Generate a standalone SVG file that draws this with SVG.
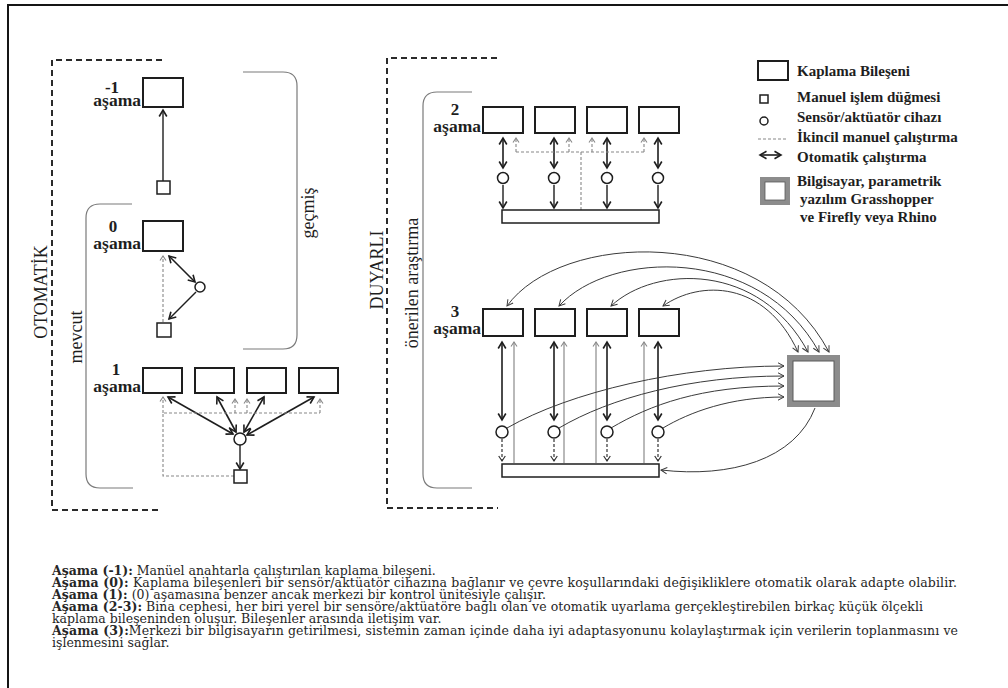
<svg xmlns="http://www.w3.org/2000/svg" width="1008" height="688" viewBox="0 0 1008 688">
  <defs>
    <style>
      .lbl { font-family: "Liberation Serif", "DejaVu Serif", serif; fill: #1e1e1e; }
      .num { font-size: 17px; font-weight: bold; text-anchor: middle; }
      .st { font-size: 17.5px; font-weight: bold; text-anchor: end; }
      .side { font-size: 18px; text-anchor: middle; }
      .leg { font-size: 15px; font-weight: bold; }
      .body { font-family: "DejaVu Serif", "Liberation Serif", serif; font-size: 12.5px; fill: #262626; }
      .body .b { font-weight: bold; }
      .box { fill: #fff; stroke: #1e1e1e; stroke-width: 2; }
      .btn { fill: #fff; stroke: #1e1e1e; stroke-width: 1.5; }
      .sens { fill: #fff; stroke: #1e1e1e; stroke-width: 1.5; }
      .auto2 { fill: none; stroke: #1e1e1e; stroke-width: 1.6; marker-start: url(#ah); marker-end: url(#ah); }
      .auto1 { fill: none; stroke: #1e1e1e; stroke-width: 1.4; marker-end: url(#ah); }
      .man { fill: none; stroke: #888; stroke-width: 1.1; stroke-dasharray: 3 2; }
      .manA { fill: none; stroke: #888; stroke-width: 1.1; stroke-dasharray: 3 2; marker-end: url(#ahg); }
      .manD { fill: none; stroke: #333; stroke-width: 1.2; stroke-dasharray: 3 2; marker-end: url(#ahd); }
      .feed { fill: none; stroke: #8a8a8a; stroke-width: 1.2; marker-end: url(#ahg); }
      .link { fill: none; stroke: #3a3a3a; stroke-width: 1; }
      .frame { fill: none; stroke: #2a2a2a; stroke-width: 2; stroke-dasharray: 6 4; }
      .brk { fill: none; stroke: #7a7a7a; stroke-width: 1.2; }
      .pc { fill: #fff; stroke: #8c8c8c; }
    </style>
    <marker id="ah" viewBox="-8 -5 10 10" refX="0" refY="0" markerWidth="10" markerHeight="10" markerUnits="userSpaceOnUse" orient="auto-start-reverse">
      <path d="M-6.5,-3.8 L0,0 L-6.5,3.8" fill="none" stroke="#1e1e1e" stroke-width="1.6"/>
    </marker>
    <marker id="ahg" viewBox="-8 -5 10 10" refX="0" refY="0" markerWidth="10" markerHeight="10" markerUnits="userSpaceOnUse" orient="auto-start-reverse">
      <path d="M-4.5,-3 L0,0 L-4.5,3" fill="none" stroke="#888" stroke-width="1.1"/>
    </marker>
    <marker id="ahd" viewBox="-8 -5 10 10" refX="0" refY="0" markerWidth="10" markerHeight="10" markerUnits="userSpaceOnUse" orient="auto-start-reverse">
      <path d="M-5,-3.3 L0,0 L-5,3.3" fill="none" stroke="#333" stroke-width="1.2"/>
    </marker>
    <marker id="ahc" viewBox="-8 -5 10 10" refX="0" refY="0" markerWidth="10" markerHeight="10" markerUnits="userSpaceOnUse" orient="auto-start-reverse">
      <path d="M-6,-3.2 L0,0 L-6,3.2" fill="none" stroke="#3a3a3a" stroke-width="1"/>
    </marker>
  </defs>

  <rect width="1008" height="688" fill="#fff"/>
  <!-- page border (open to the right and bottom) -->
  <path d="M1010 5 H8 V690" fill="none" stroke="#151515" stroke-width="2"/>

  <!-- group brackets -->
  <g id="group-otomatik">
    <path class="frame" d="M162 60 H52 V510 H162"/>
    <text class="lbl side" font-size="16" transform="translate(47 292) rotate(-90)">OTOMATİK</text>
  </g>
  <g id="group-gecmis">
    <path class="brk" d="M243 72 H283 Q297 72 297 86 V335 Q297 349 283 349 H243"/>
    <text class="lbl side" transform="translate(314 213) rotate(-90)">geçmiş</text>
  </g>
  <g id="group-mevcut">
    <path class="brk" d="M132 204 H100 Q86 204 86 218 V474 Q86 488 100 488 H133"/>
    <text class="lbl side" transform="translate(82 337) rotate(-90)">mevcut</text>
  </g>
  <g id="group-duyarli">
    <path class="frame" d="M497 58 H387 V508 H498"/>
    <text class="lbl side" font-size="16" transform="translate(383 270) rotate(-90)">DUYARLI</text>
  </g>
  <g id="group-onerilen">
    <path class="brk" d="M472 92 H437 Q423 92 423 106 V474 Q423 488 437 488 H472"/>
    <text class="lbl side" font-size="19" transform="translate(418 283) rotate(-90)">önerilen araştırma</text>
  </g>

  <!-- connectors -->
  <g id="connectors">
    <!-- stage -1 -->
    <path class="auto1" d="M163 181 V110"/>
    <!-- stage 0 -->
    <path class="auto2" d="M169 256 L195 282"/>
    <path class="auto1" d="M196 292 L169 319"/>
    <path class="manA" d="M163 322 V256"/>
    <!-- stage 1 -->
    <path class="auto2" d="M233 434 L168 397"/>
    <path class="auto2" d="M236 432 L217 397"/>
    <path class="auto2" d="M244 432 L264 397"/>
    <path class="auto2" d="M247 435 L314 397"/>
    <path class="auto1" d="M240 445 V469"/>
    <path class="man" d="M234 476 H163 V413 H320"/>
    <path class="manA" d="M163 413 V397"/>
    <path class="manA" d="M235 413 V399"/>
    <path class="manA" d="M247 413 V399"/>
    <path class="manA" d="M320 413 V399"/>
    <!-- stage 2 -->
    <path class="auto2" d="M503 138 V168"/>
    <path class="auto2" d="M554 138 V168"/>
    <path class="auto2" d="M607 138 V168"/>
    <path class="auto2" d="M658 138 V168"/>
    <path class="auto1" d="M503 185 V208"/>
    <path class="auto1" d="M554 185 V208"/>
    <path class="auto1" d="M607 185 V208"/>
    <path class="auto1" d="M658 185 V208"/>
    <path class="man" d="M516 152 H644 M581 152 V210"/>
    <path class="manA" d="M516 152 V138"/>
    <path class="manA" d="M569 152 V138"/>
    <path class="manA" d="M592 152 V138"/>
    <path class="manA" d="M644 152 V138"/>
    <!-- stage 3 -->
    <path class="auto2" d="M502 342 V420"/>
    <path class="auto2" d="M554 342 V420"/>
    <path class="auto2" d="M607 342 V420"/>
    <path class="auto2" d="M658 342 V420"/>
    <path class="manD" d="M502 439 V461"/>
    <path class="manD" d="M554 439 V461"/>
    <path class="manD" d="M607 439 V461"/>
    <path class="manD" d="M658 439 V461"/>
    <path class="feed" d="M514 463 V342"/>
    <path class="feed" d="M564 463 V342"/>
    <path class="feed" d="M596 463 V342"/>
    <path class="feed" d="M644 463 V342"/>
    <!-- computer to stage 3 components -->
    <g class="link" marker-start="url(#ahc)" marker-end="url(#ahc)">
      <path d="M507 306 C560 232 760 222 829 352"/>
      <path d="M559 306 C610 250 760 245 819 352"/>
      <path d="M611 306 C655 265 760 262 808 352"/>
      <path d="M663 306 C700 280 765 280 798 352"/>
    </g>
    <!-- sensors to computer, computer to bus -->
    <g class="link" marker-end="url(#ahc)">
      <path d="M507 428 C570 392 680 366 784 366"/>
      <path d="M559 428 C610 398 690 376 784 376"/>
      <path d="M611 428 C650 405 700 386 784 386"/>
      <path d="M663 428 C690 412 730 397 784 397"/>
      <path d="M815 408 C795 460 730 478 661 470"/>
    </g>
  </g>

  <!-- stage -1 -->
  <g id="stage-m1">
    <text class="lbl num" x="112" y="93">-1</text>
    <text class="lbl st" x="141" y="106">aşama</text>
    <rect class="box" x="143" y="78" width="40" height="29"/>
    <rect class="btn" x="157" y="181" width="13" height="13"/>
  </g>

  <!-- stage 0 -->
  <g id="stage-0">
    <text class="lbl num" x="113" y="232">0</text>
    <text class="lbl st" x="141" y="249">aşama</text>
    <rect class="box" x="143" y="221" width="40" height="30"/>
    <circle class="sens" cx="200" cy="287" r="5"/>
    <rect class="btn" x="157" y="323" width="14" height="14"/>
  </g>

  <!-- stage 1 -->
  <g id="stage-1">
    <text class="lbl num" x="116" y="375">1</text>
    <text class="lbl st" x="141" y="392">aşama</text>
    <rect class="box" x="143" y="368" width="39" height="25"/>
    <rect class="box" x="195" y="368" width="39" height="25"/>
    <rect class="box" x="247" y="368" width="39" height="25"/>
    <rect class="box" x="299" y="368" width="39" height="25"/>
    <circle class="sens" cx="240" cy="439" r="6"/>
    <rect class="btn" x="234" y="470" width="13" height="13"/>
  </g>

  <!-- stage 2 -->
  <g id="stage-2">
    <text class="lbl num" x="455" y="115">2</text>
    <text class="lbl st" x="481" y="132">aşama</text>
    <rect class="box" x="483" y="107" width="40" height="26"/>
    <rect class="box" x="535" y="107" width="40" height="26"/>
    <rect class="box" x="587" y="107" width="40" height="26"/>
    <rect class="box" x="639" y="107" width="40" height="26"/>
    <circle class="sens" cx="503" cy="178" r="5.5"/>
    <circle class="sens" cx="554" cy="178" r="5.5"/>
    <circle class="sens" cx="607" cy="178" r="5.5"/>
    <circle class="sens" cx="658" cy="178" r="5.5"/>
    <rect class="btn" x="502" y="210" width="157" height="13"/>
  </g>

  <!-- stage 3 -->
  <g id="stage-3">
    <text class="lbl num" x="455" y="317">3</text>
    <text class="lbl st" x="481" y="334">aşama</text>
    <rect class="box" x="483" y="309" width="40" height="27"/>
    <rect class="box" x="535" y="309" width="40" height="27"/>
    <rect class="box" x="587" y="309" width="40" height="27"/>
    <rect class="box" x="639" y="309" width="40" height="27"/>
    <circle class="sens" cx="502" cy="432" r="6"/>
    <circle class="sens" cx="554" cy="432" r="6"/>
    <circle class="sens" cx="607" cy="432" r="6"/>
    <circle class="sens" cx="658" cy="432" r="6"/>
    <rect class="btn" x="502" y="464" width="157" height="13"/>
  </g>

  <!-- central computer -->
  <g id="computer">
    <rect class="pc" x="790" y="358" width="47" height="46" stroke-width="6"/>
    <rect x="793" y="361" width="41" height="40" fill="#fff" stroke="#5a5a5a" stroke-width="1"/>
  </g>

  <!-- legend -->
  <g id="legend">
    <rect class="box" x="758" y="61" width="30" height="19"/>
    <text class="lbl leg" x="797" y="76">Kaplama Bileşeni</text>
    <rect class="btn" x="760" y="95" width="8" height="8"/>
    <text class="lbl leg" x="797" y="102">Manuel işlem düğmesi</text>
    <circle class="sens" cx="764" cy="121" r="4"/>
    <text class="lbl leg" x="797" y="122">Sensör/aktüatör cihazı</text>
    <path class="man" d="M758 139 H787"/>
    <text class="lbl leg" x="797" y="142">İkincil manuel çalıştırma</text>
    <path class="auto2" d="M760 155 H781"/>
    <text class="lbl leg" x="797" y="162">Otomatik çalıştırma</text>
    <rect class="pc" x="762.5" y="179.5" width="25" height="23" stroke-width="5"/>
    <rect x="765" y="182" width="20" height="18" fill="#fff" stroke="#5a5a5a" stroke-width="0.8"/>
    <text class="lbl leg" x="797" y="186">Bilgisayar, parametrik</text>
    <text class="lbl leg" x="800" y="204">yazılım Grasshopper</text>
    <text class="lbl leg" x="800" y="222">ve Firefly veya Rhino</text>
  </g>

  <!-- stage descriptions -->
  <g id="notes" class="body">
    <text x="52" y="575"><tspan class="b">Aşama (-1):</tspan> Manüel anahtarla çalıştırılan kaplama bileşeni.</text>
    <text x="52" y="587" textLength="905"><tspan class="b">Aşama (0):</tspan> Kaplama bileşenleri bir sensör/aktüatör cihazına bağlanır ve çevre koşullarındaki değişikliklere otomatik olarak adapte olabilir.</text>
    <text x="52" y="599"><tspan class="b">Aşama (1):</tspan> (0) aşamasına benzer ancak merkezi bir kontrol ünitesiyle çalışır.</text>
    <text x="52" y="611" textLength="871"><tspan class="b">Aşama (2-3):</tspan> Bina cephesi, her biri yerel bir sensöre/aktüatöre bağlı olan ve otomatik uyarlama gerçekleştirebilen birkaç küçük ölçekli</text>
    <text x="52" y="623">kaplama bileşeninden oluşur. Bileşenler arasında iletişim var.</text>
    <text x="52" y="635" textLength="906"><tspan class="b">Aşama (3):</tspan>Merkezi bir bilgisayarın getirilmesi, sistemin zaman içinde daha iyi adaptasyonunu kolaylaştırmak için verilerin toplanmasını ve</text>
    <text x="52" y="647">işlenmesini sağlar.</text>
  </g>
</svg>
